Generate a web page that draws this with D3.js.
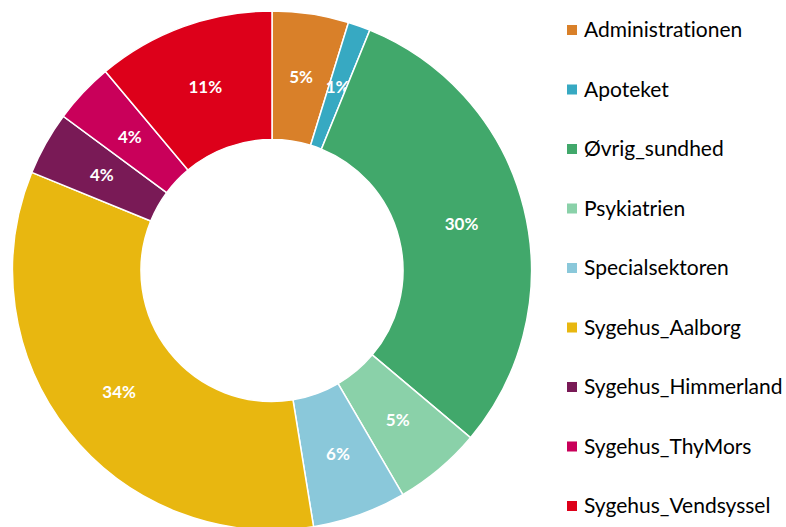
<!DOCTYPE html>
<html>
<head>
  <meta charset="utf-8">
  <script src="https://d3js.org/d3.v7.min.js"></script>
  <style>
    body { margin: 0; background: #fff; }
    .legend text { font: 21px Lato, sans-serif; fill: #000; font-variant-ligatures: none; }
    .slice-label { font: bold 17px Lato, sans-serif; fill: #fff; text-anchor: middle; }
  </style>
</head>
<body>
  <svg class="chart"></svg>
  <script>
    var categories = ['Administrationen', 'Apoteket', 'Øvrig_sundhed', 'Psykiatrien',
      'Specialsektoren', 'Sygehus_Aalborg', 'Sygehus_Himmerland', 'Sygehus_ThyMors', 'Sygehus_Vendsyssel'];
    var shares = [4.76, 1.39, 29.99, 5.45, 5.85, 33.73, 3.96, 3.78, 11.09];
    var colors = ['#D98029', '#37A9C2', '#41A86B', '#8AD1A9', '#8AC8DA', '#E8B710', '#791A56', '#C9005A', '#DD001A'];

    var width = 786;
    var height = 527;
    var cx = 272, cy = 270.5;
    var outerR = 259.5, innerR = 131;

    var svg = d3.select('.chart')
      .attr('width', width)
      .attr('height', height);

    var pie = d3.pie().sort(null).value(function (d) { return d; });
    var arc = d3.arc().innerRadius(innerR).outerRadius(outerR);
    var total = d3.sum(shares);

    var g = svg.append('g').attr('transform', 'translate(' + cx + ',' + cy + ')');
    var slices = g.selectAll('g').data(pie(shares)).enter().append('g');

    slices.append('path')
      .attr('d', arc)
      .attr('fill', function (d, i) { return colors[i]; })
      .attr('stroke', '#fff')
      .attr('stroke-width', 1.5);

    slices.append('text')
      .attr('class', 'slice-label')
      .attr('transform', function (d) { return 'translate(' + arc.centroid(d) + ')'; })
      .attr('dy', '.35em')
      .text(function (d) { return Math.round(d.value / total * 100) + '%'; });

    // legend on the right
    var legend = svg.append('g').attr('class', 'legend')
      .selectAll('g').data(categories).enter().append('g')
      .attr('transform', function (d, i) { return 'translate(567,' + (30 + i * 59.5) + ')'; });

    legend.append('rect')
      .attr('x', 0).attr('y', -5)
      .attr('width', 10).attr('height', 10)
      .attr('fill', function (d, i) { return colors[i]; });

    legend.append('text')
      .attr('x', 17)
      .attr('dy', '.35em')
      .text(function (d) { return d; });
  </script>
</body>
</html>
